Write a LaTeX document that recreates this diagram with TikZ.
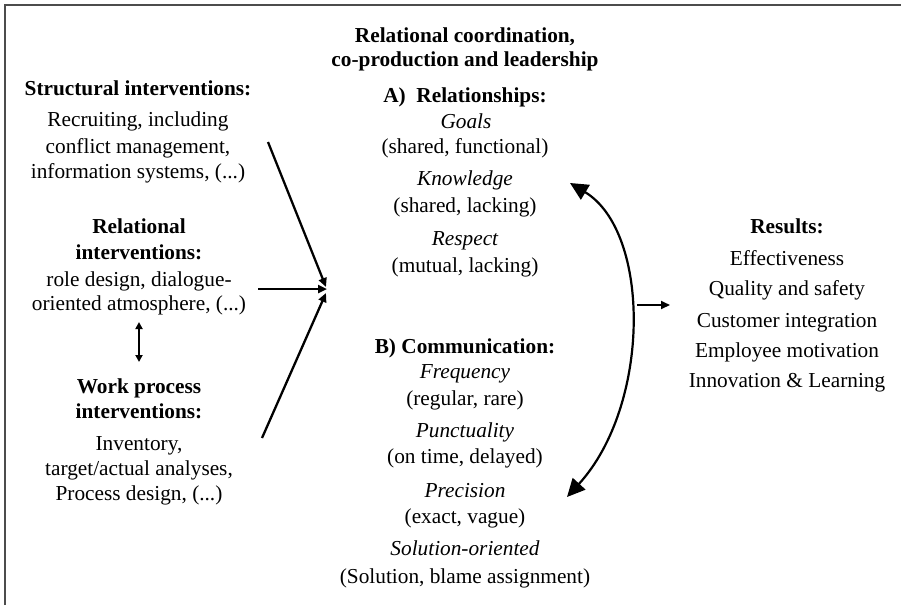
\documentclass[tikz,border=0pt]{standalone}
\usepackage{fontspec}
\setmainfont{Liberation Serif}
\usetikzlibrary{arrows.meta}
\begin{document}
\begin{tikzpicture}[x=1pt,y=-1pt,
  txt/.style={anchor=base,inner sep=0pt,font=\fontsize{21.3}{26}\selectfont},
  bf/.style={txt,font=\fontsize{21.3}{26}\selectfont\bfseries},
  it/.style={txt,font=\fontsize{21.3}{26}\selectfont\itshape},
  flow/.style={line width=2.3pt,-{Triangle[length=9pt,width=8pt]}},
  loop/.style={line width=2.2pt,{Triangle[length=18pt,width=17pt]}-{Triangle[length=18pt,width=17pt]}},
  frame/.style={draw=black!70,line width=2pt}]
\useasboundingbox (0,0) rectangle (901,605);
\draw[frame] (5,605) -- (5,5) -- (901,5);
% left column
\node[bf]  (s1) at (138,95)  {Structural interventions:};
\node[txt] (s2) at (138,126) {Recruiting, including};
\node[txt] (s3) at (138,153) {conflict management,};
\node[txt] (s4) at (138,178) {information systems, (...)};
\node[bf]  (r1) at (139,233) {Relational};
\node[bf]  (r2) at (139,259) {interventions:};
\node[txt] (r3) at (139,286) {role design, dialogue-};
\node[txt] (r4) at (139,310) {oriented atmosphere, (...)};
\node[bf]  (w1) at (139,393) {Work process};
\node[bf]  (w2) at (139,418) {interventions:};
\node[txt] (w3) at (139,450) {Inventory,};
\node[txt] (w4) at (139,475) {target/actual analyses,};
\node[txt] (w5) at (139,500) {Process design, (...)};
\coordinate (da) at (139,322);
\coordinate (db) at (139,362);
\draw[line width=2pt,{Triangle[length=7pt,width=7pt]}-{Triangle[length=7pt,width=7pt]}] (da) -- (db);
% center column
\node[bf] (t1) at (465,42) {Relational coordination,};
\node[bf] (t2) at (465,66) {co-production and leadership};
\node[bf] (a0) at (465,102) {A)\ \ Relationships:};
\node[it]  (a1) at (466,128) {Goals};
\node[txt] (a2) at (465,153) {(shared, functional)};
\node[it]  (a3) at (465,185) {Knowledge};
\node[txt] (a4) at (465,212) {(shared, lacking)};
\node[it]  (a5) at (465,245) {Respect};
\node[txt] (a6) at (465,272) {(mutual, lacking)};
\node[bf] (b0) at (465,353) {B) Communication:};
\node[it]  (b1) at (465,378) {Frequency};
\node[txt] (b2) at (465,405) {(regular, rare)};
\node[it]  (b3) at (465,437) {Punctuality};
\node[txt] (b4) at (465,463) {(on time, delayed)};
\node[it]  (b5) at (465,497) {Precision};
\node[txt] (b6) at (465,523) {(exact, vague)};
\node[it]  (b7) at (465,555) {Solution-oriented};
\node[txt] (b8) at (465,583) {(Solution, blame assignment)};
% right column
\node[bf]  (q0) at (787,233) {Results:};
\node[txt] (q1) at (787,265) {Effectiveness};
\node[txt] (q2) at (787,295) {Quality and safety};
\node[txt] (q3) at (787,327) {Customer integration};
\node[txt] (q4) at (787,357) {Employee motivation};
\node[txt] (q5) at (787,387) {Innovation \& Learning};
% arrows
\coordinate (in1) at (268,142);
\coordinate (in2) at (258,289);
\coordinate (in3) at (262,438);
\coordinate (m1) at (326,287);
\coordinate (m2) at (327,289);
\coordinate (m3) at (326,293);
\draw[flow] (in1) -- (m1);
\draw[flow] (in2) -- (m2);
\draw[flow] (in3) -- (m3);
\coordinate (ct) at (570,183);
\coordinate (cb) at (567,497);
\draw[loop] (ct) .. controls (651,232) and (651,405) .. (cb);
\coordinate (o1) at (637,305);
\coordinate (o2) at (670,305);
\draw[flow,line width=2pt] (o1) -- (o2);
\end{tikzpicture}
\end{document}
